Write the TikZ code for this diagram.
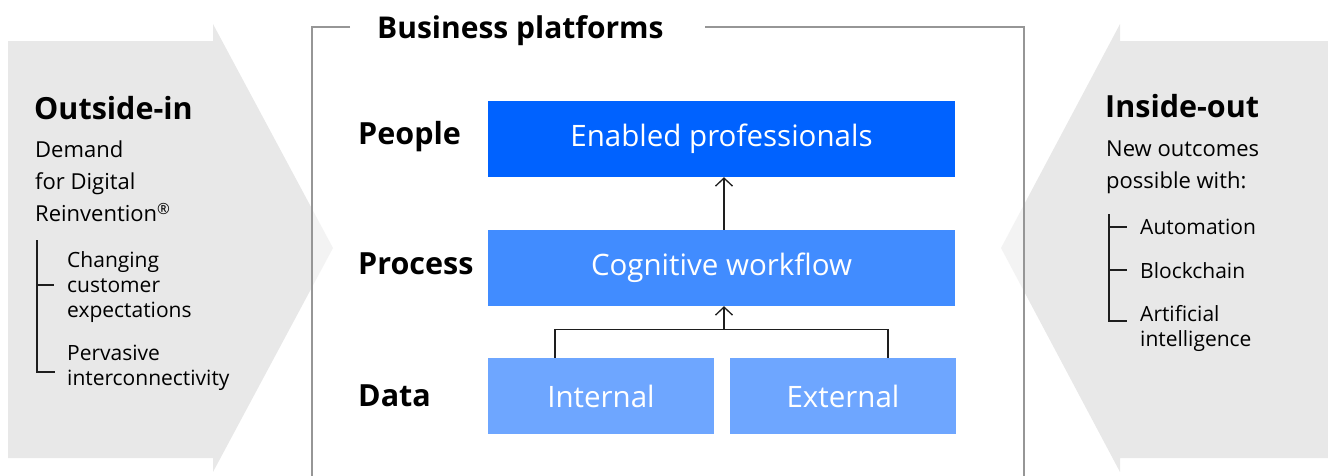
\documentclass[tikz,border=0pt]{standalone}
\usepackage{fontspec}
\setmainfont{Open Sans}
\usetikzlibrary{arrows.meta, positioning, calc}
\definecolor{blueppl}{RGB}{0, 98, 255}
\definecolor{bluepro}{RGB}{65, 140, 255}
\definecolor{bluedat}{RGB}{110, 166, 255}
\definecolor{sidegray}{RGB}{232, 232, 232}
\definecolor{framegray}{RGB}{150, 150, 150}
\definecolor{inkgray}{RGB}{30, 30, 30}

\begin{document}
\begin{tikzpicture}[
  x=1pt, y=-1pt,
  layerbox/.style={minimum height=76pt, inner sep=0pt, text=white, font=\fontsize{29.5}{32}\selectfont},
  rowlabel/.style={anchor=west, inner sep=0pt, font=\fontsize{30.5}{32}\selectfont\bfseries},
  sidehead/.style={anchor=west, inner sep=0pt, font=\fontsize{30.5}{32}\selectfont\bfseries},
  sidetext/.style={anchor=north west, inner sep=0pt, align=left, font=\fontsize{22}{32}\selectfont},
  subitem/.style={anchor=north west, inner sep=0pt, align=left, font=\fontsize{21}{25}\selectfont},
  upline/.style={-{Straight Barb[length=8pt, width=17pt]}, line width=1.3pt, inkgray},
  tree/.style={line width=1.3pt, inkgray}
]
  \useasboundingbox (0,0) rectangle (1328,475);

  % side arrows
  \fill[sidegray] (8,41) -- (213,41) -- (213,24) -- (333,248) -- (213,472) -- (213,458) -- (8,458) -- cycle;
  \fill[sidegray] (1328,41) -- (1120,41) -- (1120,24) -- (1001,248) -- (1120,472) -- (1120,458) -- (1328,458) -- cycle;

  % business platforms frame
  \fill[white, opacity=.5] (312,27) rectangle (1024,475);
  \draw[framegray, line width=1.5pt] (350,27) -- (312,27) -- (312,476);
  \draw[framegray, line width=1.5pt] (705,27) -- (1024,27) -- (1024,476);
  \node[sidehead, font=\fontsize{30}{32}\selectfont\bfseries] (title) at (377,31) {Business platforms};

  % layers
  \node[layerbox, fill=blueppl, minimum width=467pt] (people) at (721.5,139) {Enabled professionals};
  \node[layerbox, fill=bluepro, minimum width=467pt] (process) at (721.5,268) {Cognitive workflow};
  \node[layerbox, fill=bluedat, minimum width=226pt] (internal) at (601,396) {Internal};
  \node[layerbox, fill=bluedat, minimum width=226pt] (external) at (843,396) {External};

  \node[rowlabel] (peoplelbl) at (358,137) {People};
  \node[rowlabel] (processlbl) at (358,264) {Process};
  \node[rowlabel] (datalbl) at (358,396) {Data};

  \coordinate (merge) at ($(process.south)+(2.5,23)$);
  \draw[upline] ($(process.north)+(2.5,0)$) -- ($(people.south)+(2.5,0)$);
  \draw[tree] ([xshift=-46pt]internal.north) |- (merge) -| ([xshift=45pt]external.north);
  \draw[upline] (merge) -- ($(process.south)+(2.5,0)$);

  % outside-in
  \node[sidehead] (outside) at (34,108) {Outside-in};
  \node[sidetext] (demand) at (35,141) {Demand\\for Digital\\Reinvention\textsuperscript{\textregistered}};
  \draw[tree] (37,240) -- (37,372) -- (55,372);
  \draw[tree] (37,285) -- (54,285);
  \node[subitem] (changing) at (67,251) {Changing\\customer\\expectations};
  \node[subitem] (pervasive) at (67,345) {Pervasive\\interconnectivity};

  % inside-out
  \node[sidehead] (inside) at (1105,106) {Inside-out};
  \node[sidetext] (outcomes) at (1106,141) {New outcomes\\possible with:};
  \draw[tree] (1109,214) -- (1109,321) -- (1127,321);
  \draw[tree] (1109,227) -- (1127,227);
  \draw[tree] (1109,270) -- (1127,270);
  \node[subitem] (automation) at (1140,219) {Automation};
  \node[subitem] (blockchain) at (1140,262) {Blockchain};
  \node[subitem] (artificial) at (1140,305) {Artificial\\intelligence};
\end{tikzpicture}
\end{document}
